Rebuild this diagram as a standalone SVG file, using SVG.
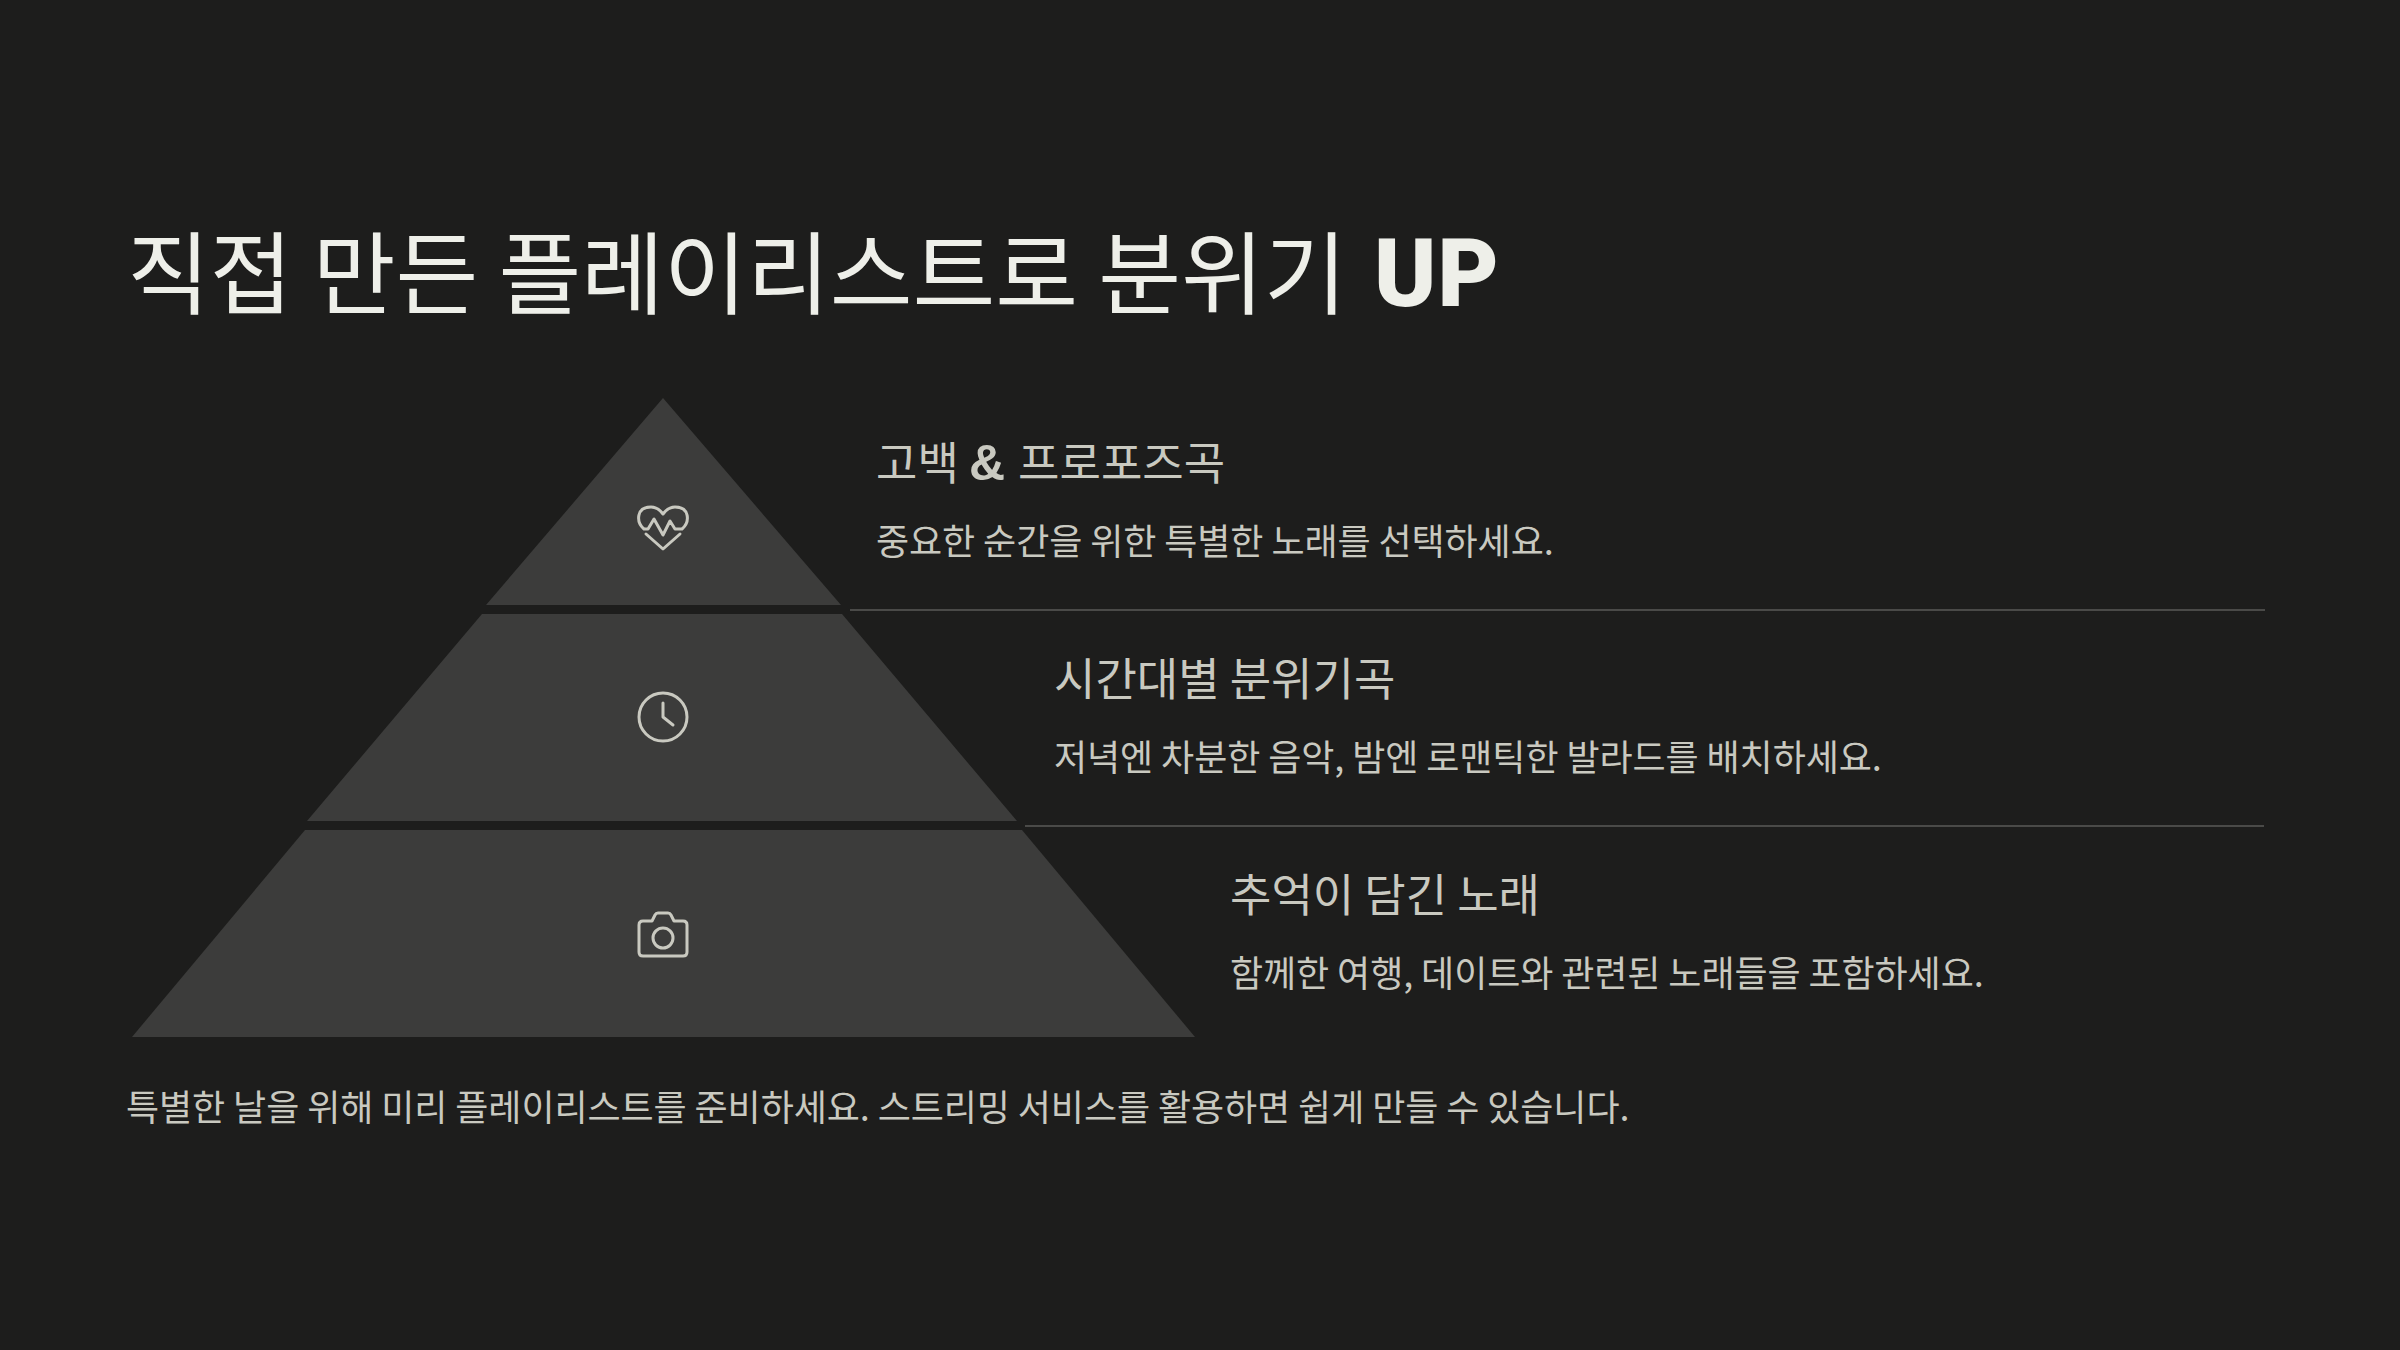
<svg xmlns="http://www.w3.org/2000/svg" width="2400" height="1350" viewBox="0 0 2400 1350">
<style>
text{font-family:"Noto Sans CJK KR","Noto Sans",sans-serif;font-weight:400}
.t{font-size:90px;fill:#eeefe9}
.h{font-size:45px;fill:#c9c9c0}
.d{font-size:36px;fill:#c9c9c0;letter-spacing:-.08px}
.s{fill:#3c3c3b}
.b{font-family:Roboto,sans-serif;font-weight:900;letter-spacing:1px}
.a{font-family:"Liberation Sans",sans-serif;font-weight:700;font-size:50px}
.i{fill:none;stroke:#c9c9c0;stroke-width:3;stroke-linecap:round;stroke-linejoin:round}
.c{stroke:#5a5a57;stroke-width:1.5}
</style>
<rect width="2400" height="1350" fill="#1d1d1c"/>
<text id="title" class="t" x="127" y="307">직접 만든 플레이리스트로 분위기 <tspan class="b" x="1374" y="306" font-size="94">UP</tspan></text>
<g id="connectors"><line class="c" x1="850" y1="610" x2="2265" y2="610"/><line class="c" x1="1025" y1="826" x2="2264" y2="826"/></g>
<g id="node1"><polygon class="s" points="663,398 841,605 486,605"/>
<g class="i"><path d="M644 529C636 522 636 507 651 507C657 507 660 510 663 514C666 510 669 507 675 507C690 507 690 522 682 529H675L670 521L663 535L654 519L648 529Z"/><path d="M646 534L663 549L680 534"/></g>
<text class="h" x="876" y="480">고백 <tspan class="a">&amp;</tspan><tspan dx="3"> 프로포즈곡</tspan></text><text class="d" x="876" y="555">중요한 순간을 위한 특별한 노래를 선택하세요.</text></g>
<g id="node2"><polygon class="s" points="842,614 1017,821 307,821 482,614"/>
<g class="i"><circle cx="663" cy="717" r="24"/><path d="M663 703V717L673 725"/></g>
<text class="h" x="1054" y="696">시간대별 분위기곡</text><text class="d" x="1054" y="771">저녁엔 차분한 음악, 밤엔 로맨틱한 발라드를 배치하세요.</text></g>
<g id="node3"><polygon class="s" points="1022,830 1195,1037 132,1037 305,830"/>
<g class="i"><path d="M643 921H652L655 915Q656 913 658 913H668Q670 913 671 915L674 921H683Q687 921 687 925V952Q687 956 683 956H643Q639 956 639 952V925Q639 921 643 921Z"/><circle cx="663" cy="938" r="10"/></g>
<text class="h" x="1230" y="912">추억이 담긴 노래</text><text class="d" x="1230" y="987">함께한 여행, 데이트와 관련된 노래들을 포함하세요.</text></g>
<text id="footer" class="d" x="126" y="1121">특별한 날을 위해 미리 플레이리스트를 준비하세요. 스트리밍 서비스를 활용하면 쉽게 만들 수 있습니다.</text>
</svg>
